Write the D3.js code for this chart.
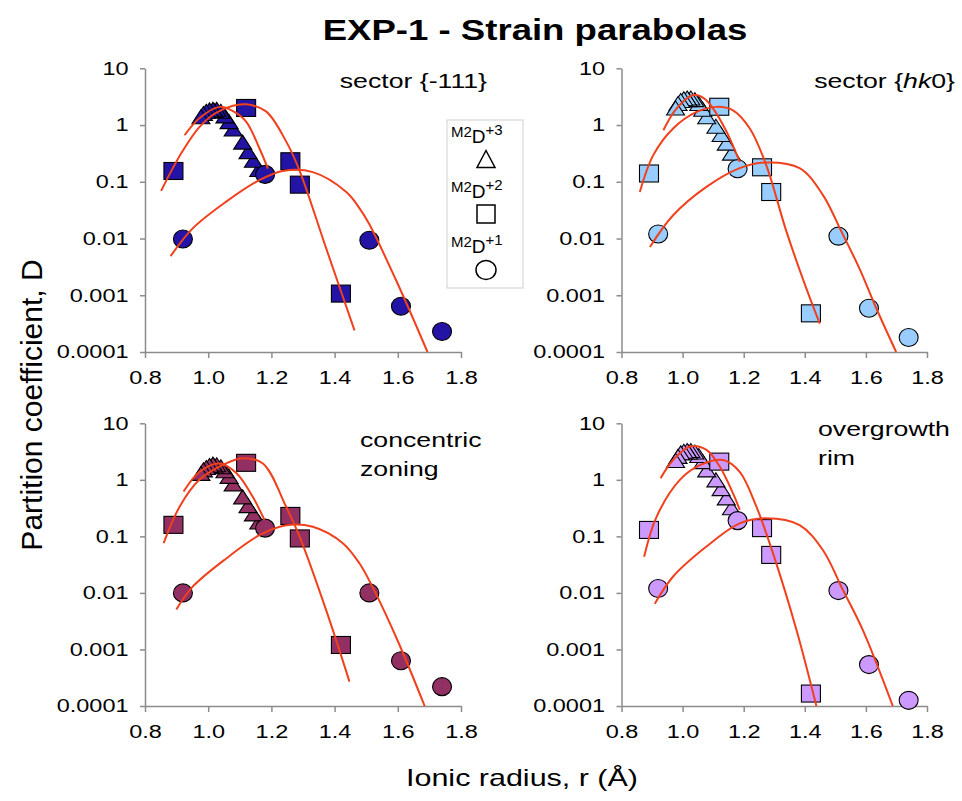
<!DOCTYPE html>
<html><head><meta charset="utf-8">
<script src="https://cdn.jsdelivr.net/npm/d3@7"></script>
<style>body{margin:0;background:#fff}</style>
</head><body><svg id="c" width="962" height="801"></svg>
<script>
const SX = 1.27;                       // horizontal stretch of the original figure's lettering
const FONT = '"Liberation Sans", Arial, Helvetica, sans-serif';

// ---------- tick labels ----------
const xTickValues = [0.8, 1.0, 1.2, 1.4, 1.6, 1.8];
const xTickLabels = ["0.8", "1.0", "1.2", "1.4", "1.6", "1.8"];
const yTickValues = [0.0001, 0.001, 0.01, 0.1, 1, 10];
const yTickLabels = ["0.0001", "0.001", "0.01", "0.1", "1", "10"];

// ---------- ionic radii (Å) ----------
// M2 +3 : La Ce Pr Nd Sm Eu Gd Tb Dy Y Ho Er Tm Yb Lu
const radiusPlus3 = [1.160, 1.143, 1.126, 1.109, 1.079, 1.066, 1.053, 1.040, 1.027, 1.019, 1.015, 1.004, 0.994, 0.985, 0.977];
// M2 +2 : Mg Ca Sr Pb Ba
const radiusPlus2 = [0.89, 1.12, 1.26, 1.29, 1.42];
// M2 +1 : Li Na K Rb Cs
const radiusPlus1 = [0.92, 1.18, 1.51, 1.61, 1.74];

// ---------- partition coefficients ----------
const dPlus3_s111 = [0.165, 0.24, 0.34, 0.5, 0.85, 1.15, 1.45, 1.75, 1.9, 1.8, 1.9, 1.85, 1.75, 1.6, 1.4];
const dPlus2_s111 = [0.155, 2.0, 0.23, 0.089, 0.00107];
const dPlus1_s111 = [0.0098, 0.135, 0.0093, 0.00064, 0.00023];

const dPlus3_hk0 = [0.32, 0.48, 0.68, 0.95, 1.4, 1.9, 2.4, 2.8, 3.0, 2.8, 3.0, 2.9, 2.7, 2.4, 2.0];
const dPlus2_hk0 = [0.14, 2.1, 0.18, 0.066, 0.00048];
const dPlus1_hk0 = [0.012, 0.17, 0.011, 0.00059, 0.00018];

const dPlus3_conc = [0.18, 0.25, 0.35, 0.5, 0.85, 1.15, 1.45, 1.7, 1.85, 1.75, 1.9, 1.8, 1.65, 1.5, 1.3];
const dPlus2_conc = [0.16, 2.0, 0.23, 0.092, 0.0012];
const dPlus1_conc = [0.01, 0.14, 0.01, 0.00063, 0.00022];

const dPlus3_rim = [0.32, 0.48, 0.7, 1.0, 1.5, 2.1, 2.7, 3.1, 3.3, 3.1, 3.3, 3.2, 3.0, 2.6, 2.2];
const dPlus2_rim = [0.13, 2.1, 0.14, 0.047, 0.000166];
const dPlus1_rim = [0.012, 0.19, 0.011, 0.00054, 0.000126];

// ---------- strain parabolas as [r, D] ----------
const fit3_s111 = [[0.925,0.66],[0.972,1.32],[1.036,2.09],[1.08,1.74],[1.12,1.15],[1.162,0.39],[1.189,0.17]];
const fit2_s111 = [[0.851,0.069],[0.888,0.174],[0.92,0.355],[0.97,0.89],[1.02,1.58],[1.078,2.19],[1.12,2.32],[1.183,1.74],[1.247,0.51],[1.289,0.158],[1.373,0.0068],[1.463,0.00024]];
const fit1_s111 = [[0.881,0.0049],[0.951,0.0151],[1.057,0.0447],[1.162,0.107],[1.236,0.155],[1.331,0.148],[1.437,0.066],[1.479,0.034],[1.51,0.0178],[1.6,0.00158],[1.694,0.0001]];

const fit3_hk0 = [[0.937,0.81],[0.98,1.95],[1.035,3.39],[1.07,2.95],[1.1,1.95],[1.144,0.76],[1.187,0.224]];
const fit2_hk0 = [[0.86,0.066],[0.904,0.295],[0.969,0.87],[1.046,1.7],[1.111,2.09],[1.165,1.82],[1.22,0.87],[1.274,0.195],[1.34,0.0132],[1.405,0.00132],[1.449,0.000316]];
const fit1_hk0 = [[0.893,0.0071],[0.969,0.0257],[1.078,0.0813],[1.187,0.174],[1.274,0.219],[1.383,0.174],[1.459,0.0589],[1.52,0.0132],[1.579,0.00295],[1.634,0.00059],[1.699,0.0001]];

const fit3_conc = [[0.922,0.62],[0.972,1.38],[1.036,1.95],[1.089,1.32],[1.141,0.5],[1.178,0.195]];
const fit2_conc = [[0.859,0.076],[0.909,0.331],[0.972,1.0],[1.057,1.95],[1.11,2.4],[1.173,1.95],[1.247,0.331],[1.289,0.1],[1.373,0.005],[1.447,0.00027]];
const fit1_conc = [[0.899,0.0051],[0.951,0.0129],[1.057,0.0407],[1.162,0.105],[1.247,0.158],[1.331,0.148],[1.426,0.0759],[1.479,0.0331],[1.525,0.0112],[1.6,0.00141],[1.685,0.0001]];

const fit3_rim = [[0.928,1.07],[0.969,2.24],[1.024,3.89],[1.078,3.39],[1.122,1.7],[1.165,0.575],[1.187,0.295]];
const fit2_rim = [[0.874,0.0437],[0.915,0.224],[0.991,1.0],[1.057,1.82],[1.133,2.24],[1.187,1.38],[1.242,0.331],[1.296,0.05],[1.373,0.00219],[1.438,0.0001]];
const fit1_rim = [[0.909,0.00646],[0.969,0.0195],[1.078,0.0661],[1.187,0.17],[1.274,0.209],[1.383,0.158],[1.459,0.0575],[1.525,0.0112],[1.59,0.00219],[1.688,0.0001]];

// ---------- texts ----------
const chartTitle = "EXP-1 - Strain parabolas";
const xAxisTitle = "Ionic radius, r (Å)";
const yAxisTitle = "Partition coefficient, D";
const legendCharges = ["+3", "+2", "+1"];

// ---------- panels ----------
const panels = [
  {x0:145, x1:461, yt:68.3, yb:352, color:"#2414a6", d3s:dPlus3_s111, d2s:dPlus2_s111, d1s:dPlus1_s111, fits:[fit3_s111, fit2_s111, fit1_s111],
   label:{anchor:"end", x:487, y:88, lines:[[["sector {-111}",false]]]}},
  {x0:621.5, x1:927, yt:68.3, yb:352, color:"#99ccff", d3s:dPlus3_hk0, d2s:dPlus2_hk0, d1s:dPlus1_hk0, fits:[fit3_hk0, fit2_hk0, fit1_hk0],
   label:{anchor:"end", x:955, y:88, lines:[[["sector {",false],["hk",true],["0}",false]]]}},
  {x0:145, x1:461, yt:423.3, yb:706, color:"#923064", d3s:dPlus3_conc, d2s:dPlus2_conc, d1s:dPlus1_conc, fits:[fit3_conc, fit2_conc, fit1_conc],
   label:{anchor:"start", x:360, y:447, lines:[[["concentric",false]],[["zoning",false]]]}},
  {x0:621.5, x1:927, yt:423.3, yb:706, color:"#cc99ff", d3s:dPlus3_rim, d2s:dPlus2_rim, d1s:dPlus1_rim, fits:[fit3_rim, fit2_rim, fit1_rim],
   label:{anchor:"start", x:818, y:436, lines:[[["overgrowth",false]],[["rim",false]]]}}
];

const svg = d3.select("#c");
const AXIS = "#8c8c8c";
const CURVE = "#f0401c";

function triPath(w, h) { return `M0,${-h/2}L${w/2},${h/2}L${-w/2},${h/2}Z`; }

panels.forEach(p => {
  const x = d3.scaleLinear().domain([0.8, 1.8]).range([p.x0, p.x1]);
  const y = d3.scaleLog().domain([1e-4, 10]).range([p.yb, p.yt]);
  const g = svg.append("g");

  const ax = g.append("g").attr("transform", `translate(0,${p.yb})`)
    .call(d3.axisBottom(x).tickValues(xTickValues).tickFormat((d, i) => xTickLabels[i])
      .tickSizeInner(6).tickSizeOuter(0).tickPadding(13));
  const ay = g.append("g").attr("transform", `translate(${p.x0},0)`)
    .call(d3.axisLeft(y).tickValues(yTickValues).tickFormat((d, i) => yTickLabels[i])
      .tickSizeInner(5).tickSizeOuter(0).tickPadding(8));
  [ax, ay].forEach(a => {
    a.select(".domain").attr("stroke", AXIS).attr("stroke-width", 1.5);
    a.selectAll(".tick line").attr("stroke", AXIS).attr("stroke-width", 1.5);
    a.selectAll(".tick text").attr("fill", "#000")
      .style("font-size", "18.5px").style("font-family", FONT)
      .attr("transform", `scale(${SX},1)`);
  });

  // +3 triangles
  g.append("g").selectAll("path").data(radiusPlus3.map((r, i) => [r, p.d3s[i]])).join("path")
    .attr("d", triPath(18, 14))
    .attr("transform", d => `translate(${x(d[0])},${y(d[1])})`)
    .attr("fill", p.color).attr("stroke", "#000").attr("stroke-width", 1.1);
  // +2 squares
  g.append("g").selectAll("rect").data(radiusPlus2.map((r, i) => [r, p.d2s[i]])).join("rect")
    .attr("x", d => x(d[0]) - 9.5).attr("y", d => y(d[1]) - 8.5)
    .attr("width", 19).attr("height", 17)
    .attr("fill", p.color).attr("stroke", "#000").attr("stroke-width", 1.1);
  // +1 circles
  g.append("g").selectAll("ellipse").data(radiusPlus1.map((r, i) => [r, p.d1s[i]])).join("ellipse")
    .attr("cx", d => x(d[0])).attr("cy", d => y(d[1]))
    .attr("rx", 9.5).attr("ry", 9)
    .attr("fill", p.color).attr("stroke", "#000").attr("stroke-width", 1.1);

  // parabolas
  const line = d3.line().x(d => x(d[0])).y(d => y(d[1])).curve(d3.curveCatmullRom.alpha(0.5));
  p.fits.forEach(f => {
    g.append("path").attr("d", line(f)).attr("fill", "none")
      .attr("stroke", CURVE).attr("stroke-width", 2);
  });

  // panel label
  p.label.lines.forEach((ln, li) => {
    const t = g.append("text")
      .attr("transform", `translate(${p.label.x},${p.label.y + li * 29}) scale(${SX},1)`)
      .attr("text-anchor", p.label.anchor)
      .style("font-family", FONT).style("font-size", "21px").attr("fill", "#000");
    ln.forEach(seg => t.append("tspan").text(seg[0]).style("font-style", seg[1] ? "italic" : "normal"));
  });
});

// title
svg.append("text").attr("transform", `translate(535,40) scale(${SX},1)`)
  .attr("text-anchor", "middle").style("font-family", FONT).style("font-size", "28.8px")
  .style("font-weight", "bold").text(chartTitle);

// axis titles
svg.append("text").attr("transform", `translate(522,786) scale(${SX},1)`)
  .attr("text-anchor", "middle").style("font-family", FONT).style("font-size", "24px").text(xAxisTitle);
svg.append("text").attr("transform", `translate(42,405) rotate(-90)`)
  .attr("text-anchor", "middle").style("font-family", FONT).style("font-size", "30px").text(yAxisTitle);

// legend
const lg = svg.append("g");
lg.append("rect").attr("x", 447).attr("y", 120).attr("width", 76).attr("height", 168)
  .attr("fill", "#fff").attr("stroke", "#cfcfcf").attr("stroke-width", 1);
legendCharges.forEach((c, i) => {
  const by = 143 + i * 55;
  const t = lg.append("text").attr("x", 451).attr("y", by - 6)
    .style("font-family", FONT).attr("fill", "#000");
  t.append("tspan").text("M2").style("font-size", "15px");
  t.append("tspan").text("D").attr("dy", 6).style("font-size", "19px");
  t.append("tspan").text(c).attr("dy", -8).style("font-size", "15px");
  const cx = 486, cy = by + 16 + (i === 2 ? 1 : 0);
  if (i === 0) {
    lg.append("path").attr("d", triPath(18, 17)).attr("transform", `translate(${cx},${cy})`)
      .attr("fill", "#fff").attr("stroke", "#000").attr("stroke-width", 1.5);
  } else if (i === 1) {
    lg.append("rect").attr("x", cx - 9).attr("y", cy - 9).attr("width", 18).attr("height", 18)
      .attr("fill", "#fff").attr("stroke", "#000").attr("stroke-width", 1.5);
  } else {
    lg.append("ellipse").attr("cx", cx).attr("cy", cy).attr("rx", 10).attr("ry", 9.5)
      .attr("fill", "#fff").attr("stroke", "#000").attr("stroke-width", 1.5);
  }
});
</script></body></html>
